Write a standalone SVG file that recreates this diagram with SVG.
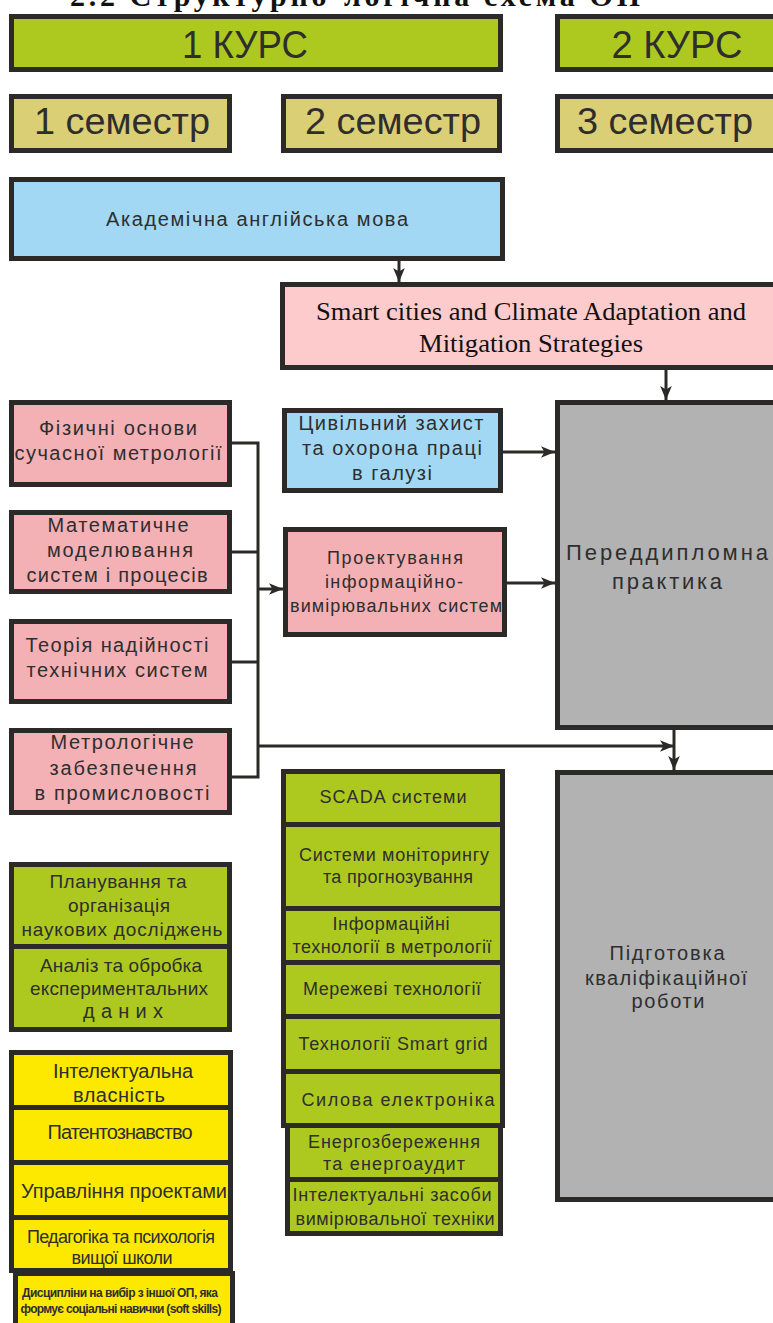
<svg xmlns="http://www.w3.org/2000/svg" width="773" height="1323" viewBox="0 0 773 1323">
<defs>
<marker id="ah" viewBox="0 0 12 10" refX="12" refY="5" markerWidth="14" markerHeight="12" markerUnits="userSpaceOnUse" orient="auto">
<path d="M0,0 L12,5 L0,10 L3,5 z" fill="#2b2a29"/>
</marker>
<style>
rect{stroke:#2b2a29;stroke-width:5}
.g{fill:#adc91f}.k{fill:#dbcf75}.b{fill:#a3d8f4}.p{fill:#f3b0b5}.lp{fill:#fdcbcc}.gr{fill:#b1b2b1}.y{fill:#fde900}
text{font-family:"Liberation Sans",Arial,sans-serif;fill:#2e2e2e;text-anchor:middle}
.t38{font-size:39px}.t37{font-size:37px}.t22{font-size:22px}.t21{font-size:21px}.t20{font-size:20px}.t19{font-size:19px}.t18{font-size:18px}.t12{font-size:12px;font-weight:bold}
.tm{font-family:"Liberation Serif","Times New Roman",serif;font-size:25px;fill:#111}
.title{font-family:"Liberation Serif","Times New Roman",serif;font-size:30px;font-weight:bold;fill:#111}
.c{fill:none;stroke:#2b2a29;stroke-width:3}
</style>
</defs>
<text class="title" x="355" y="6" textLength="570">2.2 Структурно-логічна схема ОП</text>

<g id="kurs1"><rect class="g" x="11.5" y="16.5" width="489" height="53"/><text class="t38" x="245" y="58" textLength="126" lengthAdjust="spacingAndGlyphs">1 КУРС</text></g>
<g id="kurs2"><rect class="g" x="557.5" y="16.5" width="225" height="53"/><text class="t38" x="677" y="58" textLength="131" lengthAdjust="spacingAndGlyphs">2 КУРС</text></g>
<g id="sem1"><rect class="k" x="11.5" y="96.5" width="218" height="54"/><text class="t37" x="122" y="134" textLength="176" lengthAdjust="spacingAndGlyphs">1 семестр</text></g>
<g id="sem2"><rect class="k" x="283.5" y="96.5" width="216" height="54"/><text class="t37" x="393" y="134" textLength="176" lengthAdjust="spacingAndGlyphs">2 семестр</text></g>
<g id="sem3"><rect class="k" x="557.5" y="96.5" width="225" height="54"/><text class="t37" x="665" y="134" textLength="176" lengthAdjust="spacingAndGlyphs">3 семестр</text></g>

<g id="akad"><rect class="b" x="11.5" y="179.5" width="491" height="79"/><text class="t20" x="257" y="226" textLength="302">Академічна англійська мова</text></g>
<g id="smart"><rect class="lp" x="282.5" y="284.5" width="500" height="83"/>
<text class="tm" x="531" y="320" textLength="430" lengthAdjust="spacingAndGlyphs">Smart cities and Climate Adaptation and</text>
<text class="tm" x="531" y="352" textLength="224" lengthAdjust="spacingAndGlyphs">Mitigation Strategies</text></g>

<g id="fiz"><rect class="p" x="11.5" y="402.5" width="218" height="82"/>
<text class="t20" x="118" y="435" textLength="158">Фізичні основи</text>
<text class="t20" x="118" y="460" textLength="207">сучасної метрології</text></g>
<g id="mat"><rect class="p" x="11.5" y="512.5" width="218" height="79"/>
<text class="t20" x="118" y="532" textLength="141">Математичне</text>
<text class="t20" x="120" y="557" textLength="146">моделювання</text>
<text class="t20" x="117" y="582" textLength="181">систем і процесів</text></g>
<g id="teor"><rect class="p" x="11.5" y="621.5" width="218" height="80"/>
<text class="t20" x="117" y="652" textLength="183">Теорія надійності</text>
<text class="t20" x="117" y="677" textLength="181">технічних систем</text></g>
<g id="metr"><rect class="p" x="11.5" y="730.5" width="218" height="82"/>
<text class="t20" x="122" y="749" textLength="143">Метрологічне</text>
<text class="t20" x="123" y="775" textLength="147">забезпечення</text>
<text class="t20" x="122" y="800" textLength="175">в промисловості</text></g>

<g id="tsyv"><rect class="b" x="284.5" y="410.5" width="216" height="80"/>
<text class="t20" x="391" y="430" textLength="185">Цивільний захист</text>
<text class="t20" x="392" y="455" textLength="180">та охорона праці</text>
<text class="t20" x="392" y="480" textLength="80">в галузі</text></g>
<g id="proekt"><rect class="p" x="285.5" y="529.5" width="219" height="105"/>
<text class="t18" x="395" y="564" textLength="136">Проектування</text>
<text class="t18" x="394" y="588" textLength="138">інформаційно-</text>
<text class="t18" x="396" y="612" textLength="212">вимірювальних систем</text></g>

<g id="peredd"><rect class="gr" x="557.5" y="402.5" width="225" height="325"/>
<text class="t22" x="667" y="560" textLength="202">Переддипломна</text>
<text class="t22" x="667" y="589" textLength="110">практика</text></g>
<g id="pidgot"><rect class="gr" x="557.5" y="772.5" width="225" height="427"/>
<text class="t20" x="667" y="960" textLength="115">Підготовка</text>
<text class="t20" x="666" y="985" textLength="162">кваліфікаційної</text>
<text class="t20" x="668" y="1008" textLength="73">роботи</text></g>

<g id="scada"><rect class="g" x="283.5" y="771.5" width="219" height="53"/>
<text class="t18" x="393" y="803" textLength="147">SCADA системи</text></g>
<g id="monit"><rect class="g" x="283.5" y="824.5" width="219" height="84"/>
<text class="t18" x="394" y="861" textLength="190">Системи моніторингу</text>
<text class="t18" x="398" y="883" textLength="150">та прогнозування</text></g>
<g id="infmetr"><rect class="g" x="283.5" y="908.5" width="219" height="54"/>
<text class="t18" x="391" y="930" textLength="117">Інформаційні</text>
<text class="t18" x="392" y="953" textLength="199">технології в метрології</text></g>
<g id="merezh"><rect class="g" x="283.5" y="962.5" width="219" height="54"/>
<text class="t18" x="392" y="995" textLength="178">Мережеві технології</text></g>
<g id="smartgrid"><rect class="g" x="283.5" y="1016.5" width="219" height="55"/>
<text class="t18" x="393" y="1050" textLength="189">Технології Smart grid</text></g>
<g id="sylova"><rect class="g" x="283.5" y="1071.5" width="219" height="54"/>
<text class="t18" x="398" y="1106" textLength="193">Силова електроніка</text></g>
<g id="energo"><rect class="g" x="287.5" y="1125.5" width="213" height="54"/>
<text class="t18" x="394" y="1148" textLength="172">Енергозбереження</text>
<text class="t18" x="394" y="1170" textLength="142">та енергоаудит</text></g>
<g id="intzas"><rect class="g" x="287.5" y="1179.5" width="213" height="54"/>
<text class="t18" x="392" y="1201" textLength="199">Інтелектуальні засоби</text>
<text class="t18" x="395" y="1225" textLength="199">вимірювальної техніки</text></g>

<g id="plan"><rect class="g" x="11.5" y="864.5" width="218" height="82"/>
<text class="t19" x="118" y="888" textLength="137">Планування та</text>
<text class="t19" x="119" y="912" textLength="102">організація</text>
<text class="t19" x="122" y="936" textLength="201">наукових досліджень</text></g>
<g id="analiz"><rect class="g" x="11.5" y="946.5" width="218" height="83"/>
<text class="t19" x="121" y="972" textLength="162">Аналіз та обробка</text>
<text class="t19" x="119" y="995" textLength="178">експериментальних</text>
<text class="t20" x="123" y="1018" textLength="80">даних</text></g>

<g id="intvl"><rect class="y" x="11.5" y="1052.5" width="219" height="55"/>
<text class="t20" x="123" y="1078" textLength="140">Інтелектуальна</text>
<text class="t20" x="119" y="1102" textLength="92">власність</text></g>
<g id="patent"><rect class="y" x="11.5" y="1107.5" width="219" height="55"/>
<text class="t20" x="120" y="1139" textLength="145">Патентознавство</text></g>
<g id="uprav"><rect class="y" x="11.5" y="1162.5" width="219" height="55"/>
<text class="t20" x="124" y="1198" textLength="206">Управління проектами</text></g>
<g id="pedag"><rect class="y" x="11.5" y="1217.5" width="219" height="53"/>
<text class="t18" x="121" y="1243" textLength="188">Педагогіка та психологія</text>
<text class="t18" x="122" y="1264" textLength="101">вищої школи</text></g>
<g id="vybir"><rect class="y" x="15.5" y="1273.5" width="217" height="60"/>
<text class="t12" x="120" y="1297" textLength="196">Дисципліни на вибір з іншої ОП, яка</text>
<text class="t12" x="121" y="1313" textLength="201">формує соціальні навички (soft skills)</text></g>

<g id="connectors">
<line class="c" x1="399" y1="261" x2="399" y2="282" marker-end="url(#ah)"/>
<line class="c" x1="666" y1="370" x2="666" y2="400" marker-end="url(#ah)"/>
<line class="c" x1="503" y1="452" x2="555" y2="452" marker-end="url(#ah)"/>
<line class="c" x1="507" y1="583" x2="555" y2="583" marker-end="url(#ah)"/>
<polyline class="c" points="232,443 258,443 258,777 232,777"/>
<line class="c" x1="232" y1="552" x2="258" y2="552"/>
<line class="c" x1="232" y1="662" x2="258" y2="662"/>
<line class="c" x1="258" y1="589" x2="283" y2="589" marker-end="url(#ah)"/>
<line class="c" x1="258" y1="746" x2="674" y2="746" marker-end="url(#ah)"/>
<line class="c" x1="674" y1="730" x2="674" y2="770" marker-end="url(#ah)"/>
</g>
</svg>
